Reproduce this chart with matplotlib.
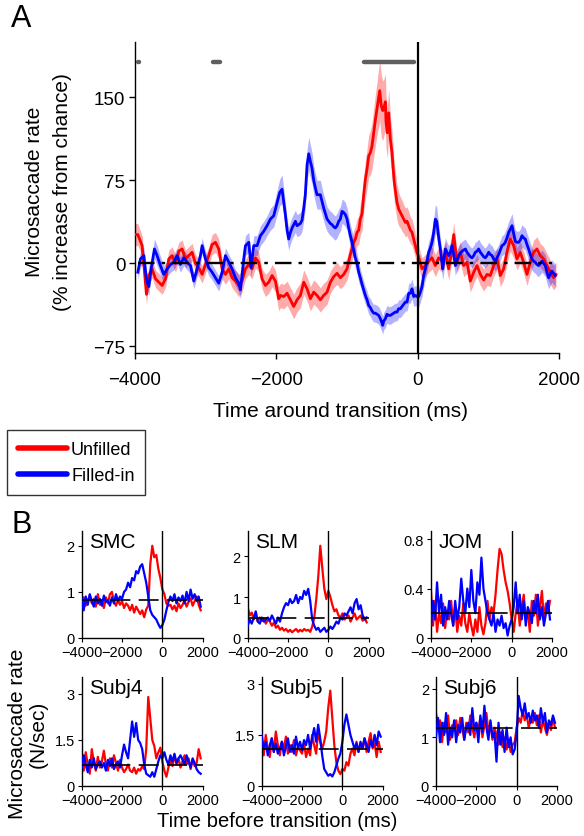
import numpy as np
import matplotlib
matplotlib.use("Agg")
import matplotlib.pyplot as plt
from matplotlib.lines import Line2D

plt.rcParams['font.family'] = ['Liberation Sans', 'DejaVu Sans']
plt.rcParams['axes.linewidth'] = 1.0

# ---------------- Panel A data (ms, % increase from chance) ----------------
red_t = [-4000, -3960, -3899, -3838, -3805, -3758, -3710, -3663, -3616, -3569, -3522, -3475, -3427,
         -3380, -3333, -3286, -3239, -3192, -3145, -3097, -3050, -3003, -2956, -2909, -2862, -2815,
         -2767, -2720, -2673, -2626, -2579, -2532, -2485, -2437, -2390, -2343, -2296, -2249, -2202,
         -2155, -2107, -2060, -2013, -1966, -1942, -1895, -1848, -1801, -1754, -1707, -1660, -1612,
         -1565, -1518, -1471, -1424, -1377, -1330, -1282, -1235, -1188, -1141, -1094, -1047, -1000,
         -952, -905, -881, -858, -834, -811, -787, -764, -740, -717, -693, -669, -646, -622, -598,
         -575, -556, -537, -514, -495, -481, -457, -448, -430, -410, -386, -363, -353, -334, -316,
         -292, -268, -245, -221, -198, -174, -150, -127, -103, -80, -56, -33, -10, 14, 38, 62, 109,
         156, 203, 250, 297, 345, 392, 439, 486, 510, 557, 604, 651, 698, 745, 793, 840, 887, 934,
         981, 1028, 1075, 1123, 1170, 1217, 1264, 1311, 1358, 1405, 1452, 1499, 1547, 1594, 1641,
         1688, 1735, 1782, 1829, 1877, 1924, 1957]
red_v = [26, 26, 16, -28, -11, -5, -14, -17, -20, -14, 4, 7, 0,
         11, 13, 4, 7, 10, 0, -4, -10, -1, 7, 17, 19, 13,
         -5, -10, -5, -13, -16, -20, -16, -5, -1, -5, 5, 1, -14,
         -20, -17, -11, -16, -32, -29, -30, -27, -33, -39, -33, -29, -17,
         -23, -32, -26, -29, -33, -29, -26, -17, -12, -9, -13, -10, -5,
         8, 19, 22, 28, 30, 40, 45, 62, 76, 85, 97, 100, 106, 118, 130,
         140, 148, 156, 142, 138, 140, 146, 128, 118, 136, 112, 100, 91, 75, 66,
         55, 49, 46, 43, 40, 37, 38, 34, 30, 28, 22, 16, 10, 6, 0, -5, -2,
         2, 5, -2, 5, 2, 10, -5, 13, 26, 1, 10, -2, 1, -16, -8, -2, -10, -15,
         -10, -11, -2, 4, -11, -5, 10, 22, 16, 4, 10, 1, -10, 1, 10,
         13, 7, 4, -2, -8, -13, -10]
red_se = [10, 10, 9, 9, 9, 8, 8, 8, 8, 8, 8, 8, 8,
          8, 8, 8, 8, 8, 8, 8, 8, 8, 8, 9, 9, 9,
          9, 9, 9, 9, 10, 10, 10, 9, 9, 9, 9, 9, 9,
          10, 10, 10, 10, 11, 11, 11, 11, 11, 11, 11, 11, 11,
          11, 11, 11, 11, 11, 11, 11, 10, 10, 10, 10, 10, 10,
          11, 11, 12, 12, 13, 14, 15, 16, 17, 18, 19, 20, 21, 22, 23,
          24, 26, 28, 28, 27, 26, 25, 24, 23, 22, 21, 20, 19, 18, 17,
          16, 15, 14, 14, 13, 13, 13, 13, 12, 12, 12, 11, 11, 10, 10, 10, 10,
          10, 10, 10, 10, 10, 10, 10, 10, 11, 10, 10, 10, 10, 10, 10, 10, 10, 10,
          10, 10, 10, 10, 10, 10, 10, 11, 11, 10, 10, 10, 10, 10, 11,
          11, 11, 11, 11, 11, 11, 11]

blue_t = [-3960, -3923, -3875, -3838, -3805, -3772, -3725, -3687, -3640, -3593, -3545, -3498, -3451,
          -3404, -3357, -3310, -3262, -3215, -3168, -3121, -3074, -3050, -3003, -2956, -2909, -2862,
          -2815, -2767, -2720, -2673, -2626, -2579, -2532, -2508, -2461, -2437, -2390, -2357, -2320,
          -2272, -2225, -2178, -2131, -2084, -2037, -1989, -1952, -1919, -1895, -1872, -1848, -1825,
          -1800, -1777, -1754, -1730, -1707, -1683, -1660, -1636, -1612, -1590, -1565, -1542, -1518,
          -1495, -1471, -1447, -1424, -1400, -1377, -1353, -1330, -1306, -1282, -1259, -1235, -1212,
          -1188, -1165, -1141, -1117, -1094, -1070, -1047, -1023, -999, -976, -952, -929, -905, -882,
          -858, -834, -811, -787, -764, -740, -716, -693, -669, -646, -622, -599, -575, -552, -528,
          -504, -495, -480, -457, -434, -410, -386, -363, -340, -316, -292, -269, -245, -222, -198,
          -174, -150, -127, -103, -80, -56, -33, -10, 15, 38, 62, 85, 109, 132, 156, 180, 203, 227,
          250, 270, 283, 300, 321, 354, 370, 392, 415, 439, 462, 486, 510, 533, 557, 580, 604, 628,
          651, 675, 698, 722, 745, 769, 793, 816, 840, 863, 887, 910, 934, 957, 981, 1005, 1028,
          1052, 1075, 1099, 1123, 1146, 1170, 1193, 1217, 1240, 1264, 1288, 1311, 1335, 1358, 1382,
          1405, 1429, 1452, 1476, 1500, 1523, 1547, 1570, 1594, 1617, 1641, 1664, 1688, 1712, 1735,
          1759, 1782, 1806, 1830, 1853, 1877, 1900, 1924, 1947]
blue_v = [-8, 4, 7, -15, -21, -5, 13, 7, -2, -10, -5, -1, 1,
          7, -1, 5, 1, -2, -16, -5, 7, 16, 4, -4, -8, -13,
          -18, -8, 7, 1, -5, -13, -18, -24, 4, 16, 19, -4, 16,
          16, 25, 29, 34, 40, 43, 55, 64, 67, 55, 44, 30, 22,
          28, 32, 35, 38, 34, 35, 36, 39, 50, 62, 89, 99, 92,
          86, 75, 68, 62, 62, 62, 56, 50, 45, 40, 38, 36, 35,
          33, 32, 34, 38, 40, 47, 46, 44, 40, 32, 25, 19, 12, 5,
          0, -8, -13, -19, -24, -29, -33, -38, -40, -43, -45, -45, -46, -47, -50,
          -54, -56, -52, -50, -46, -47, -47, -46, -45, -44, -44, -41, -41, -39, -37,
          -35, -35, -27, -27, -23, -30, -29, -30, -30, -26, -21, -11, -5, 2, 10, 14, 19, 28,
          40, 38, 31, 22, 13, -5, 2, 13, 10, 7, 10, 16, 8, -2, 3, 7, 9, 11,
          12, 13, 10, 8, 6, 5, 7, 10, 11, 13, 10, 8, 6, 5, 7, 10, 8,
          7, 4, 2, 5, 8, 12, 16, 17, 19, 23, 28, 31, 34, 27, 20,
          19, 19, 21, 25, 23, 22, 17, 13, 8, 4, 2, 1, -1, -2, 0,
          2, 0, -2, -8, -13, -10, -7, -9, -11]
blue_se = [7, 7, 8, 8, 8, 8, 9, 9, 8, 8, 7, 7, 7,
           7, 7, 7, 7, 7, 7, 7, 7, 7, 7, 7, 7, 7,
           7, 7, 7, 7, 7, 7, 8, 8, 9, 9, 9, 9, 9,
           9, 9, 9, 9, 10, 10, 11, 12, 13, 12, 11, 10, 10,
           10, 10, 10, 10, 10, 10, 10, 10, 11, 12, 14, 15, 15,
           14, 13, 13, 13, 13, 13, 12, 12, 12, 11, 11, 11, 11,
           11, 11, 11, 11, 11, 11, 11, 11, 10, 10, 10, 10, 9, 9,
           9, 9, 8, 8, 8, 8, 8, 8, 8, 8, 8, 8, 8, 8, 8,
           8, 8, 8, 8, 8, 8, 8, 8, 8, 8, 8, 8, 8, 8, 8,
           8, 8, 9, 9, 9, 9, 9, 9, 9, 9, 9, 10, 10, 10, 10, 10, 11, 12,
           13, 13, 12, 11, 10, 10, 10, 10, 9, 9, 9, 9, 9, 9, 9, 9, 9, 9,
           9, 9, 9, 9, 9, 9, 9, 9, 9, 9, 9, 9, 9, 9, 9, 9, 9,
           9, 9, 9, 9, 9, 9, 9, 9, 10, 10, 10, 10, 11, 10, 10,
           10, 10, 10, 10, 10, 10, 10, 10, 10, 10, 10, 10, 10, 10, 10,
           10, 10, 10, 10, 10, 10, 10, 10, 10]

sig_start = [-3960, -2902, -764]
sig_end = [-3945, -2793, -57]
sig_level = 182
chance_level = 0

# ---------------- Panel B data (N/sec), samples every 100 ms ----------------
b_time = list(range(-4000, 2000, 100))
subjects = ["SMC", "SLM", "JOM", "Subj4", "Subj5", "Subj6"]

smc_red = [0.72, 0.88, 0.7, 0.8, 0.92, 0.75, 0.85, 0.68, 0.95, 0.72,
           0.8, 0.65, 0.88, 0.75, 0.95, 1.0, 0.78, 0.7, 0.82, 0.72,
           0.8, 0.65, 0.75, 0.7, 0.6, 0.72, 0.55, 0.68, 0.6, 0.52,
           0.6, 0.45, 0.62, 0.7, 1.6, 2.0, 1.75, 1.8, 1.5, 1.3,
           1.05, 0.95, 0.75, 0.7, 0.72, 0.62, 0.7, 0.58, 0.75, 0.65,
           0.72, 0.82, 0.68, 0.78, 0.86, 0.7, 0.8, 0.9, 0.72, 0.6]
smc_blue = [0.85, 0.6, 0.9, 0.72, 0.95, 0.8, 0.68, 0.9, 0.75, 0.85,
            0.7, 0.92, 0.78, 0.82, 0.7, 0.88, 0.75, 0.95, 0.8, 0.9,
            0.85, 1.0, 1.05, 1.2, 1.1, 1.3, 1.25, 1.45, 1.4, 1.55,
            1.6, 1.4, 1.2, 0.9, 0.6, 0.5, 0.45, 0.4, 0.3, 0.22,
            0.28, 0.4, 0.6, 0.78, 0.9, 0.8, 0.95, 0.75, 0.88, 0.8,
            0.92, 0.75, 1.0, 0.8, 1.05, 0.85, 0.95, 0.8, 0.9, 0.68]
slm_red = [0.75, 0.55, 0.62, 0.45, 0.55, 0.4, 0.5, 0.42, 0.48, 0.35,
           0.45, 0.4, 0.3, 0.38, 0.25, 0.3, 0.2, 0.25, 0.18, 0.22,
           0.15, 0.2, 0.14, 0.18, 0.22, 0.15, 0.2, 0.16, 0.22, 0.18,
           0.2, 0.15, 0.28, 0.5, 0.95, 1.5, 2.25, 1.7, 1.2, 0.95,
           1.15, 1.0, 0.8, 0.65, 0.7, 0.55, 0.5, 0.6, 0.45, 0.5,
           0.55, 0.4, 0.5, 0.6, 0.45, 0.5, 0.55, 0.42, 0.5, 0.38]
slm_blue = [0.3, 0.45, 0.35, 0.5, 0.65, 0.4, 0.35, 0.5, 0.4, 0.45,
            0.5, 0.42, 0.55, 0.45, 0.35, 0.5, 0.4, 0.6, 0.75, 0.85,
            0.8, 0.95, 0.85, 0.9, 1.05, 0.85, 1.0, 0.95, 1.15, 1.05,
            1.2, 0.9, 0.45, 0.3, 0.2, 0.25, 0.15, 0.2, 0.25, 0.15,
            0.2, 0.28, 0.22, 0.3, 0.4, 0.35, 0.5, 0.45, 0.6, 0.55,
            0.65, 0.75, 0.6, 0.85, 0.95, 0.7, 0.8, 0.55, 0.45, 0.5]
jom_red = [0.38, 0.1, 0.3, 0.05, 0.2, 0.12, 0.28, 0.08, 0.22, 0.15,
           0.3, 0.1, 0.25, 0.05, 0.18, 0.1, 0.28, 0.12, 0.05, 0.2,
           0.1, 0.02, 0.15, 0.05, 0.25, 0.1, 0.03, 0.12, 0.3, 0.15,
           0.25, 0.2, 0.35, 0.55, 0.72, 0.68, 0.55, 0.45, 0.38, 0.28,
           0.15, 0.05, 0.2, 0.3, 0.1, 0.25, 0.35, 0.15, 0.22, 0.05,
           0.3, 0.18, 0.35, 0.1, 0.25, 0.38, 0.15, 0.28, 0.2, 0.3]
jom_blue = [0.1, 0.3, 0.15, 0.45, 0.2, 0.35, 0.1, 0.25, 0.15, 0.3,
            0.2, 0.1, 0.3, 0.15, 0.25, 0.48, 0.3, 0.2, 0.4, 0.25,
            0.55, 0.3, 0.2, 0.45, 0.35, 0.65, 0.4, 0.3, 0.2, 0.15,
            0.1, 0.2, 0.05, 0.15, 0.1, 0.18, 0.08, 0.12, 0.02, 0.1,
            0.15, 0.25, 0.45, 0.2, 0.35, 0.15, 0.3, 0.1, 0.25, 0.2,
            0.12, 0.3, 0.2, 0.35, 0.15, 0.25, 0.1, 0.2, 0.3, 0.15]
s4_red = [0.9, 0.5, 1.1, 0.7, 0.4, 1.2, 0.8, 0.5, 0.95, 0.6,
          0.8, 1.15, 0.7, 0.5, 0.9, 0.6, 1.0, 0.75, 0.5, 0.85,
          0.6, 0.45, 0.55, 0.7, 0.5, 0.45, 0.6, 0.4, 0.55, 0.5,
          0.65, 0.55, 1.2, 2.9, 2.2, 1.5, 1.3, 0.9, 1.1, 1.25,
          0.8, 0.5, 0.3, 0.6, 0.85, 0.65, 1.0, 0.7, 0.9, 0.6,
          0.8, 1.0, 0.7, 0.9, 0.55, 0.85, 0.65, 0.75, 1.2, 0.9]
s4_blue = [0.6, 1.0, 0.7, 0.45, 0.85, 0.6, 0.9, 0.55, 0.7, 0.8,
           0.6, 0.75, 0.5, 0.85, 0.65, 0.9, 0.55, 0.7, 0.8, 0.6,
           1.0, 1.35, 1.1, 0.9, 1.5, 2.1, 1.6, 2.05, 1.5, 1.4,
           1.2, 0.7, 0.4, 0.35, 0.3, 0.45, 0.3, 0.55, 0.8, 1.0,
           0.9, 1.1, 0.85, 0.7, 1.0, 0.8, 1.05, 0.75, 0.9, 1.0,
           0.85, 0.7, 1.0, 0.8, 0.6, 0.9, 0.75, 0.55, 0.45, 0.4]
s5_red = [1.3, 0.9, 1.5, 1.1, 0.85, 1.4, 1.0, 1.6, 1.2, 0.9,
          1.3, 1.1, 1.45, 0.95, 1.2, 1.0, 1.35, 0.9, 1.15, 1.05,
          0.95, 1.25, 0.85, 1.1, 0.9, 1.5, 1.2, 0.95, 1.6, 1.3,
          1.1, 1.3, 1.6, 2.3, 2.8, 2.0, 1.2, 0.7, 0.45, 0.35,
          0.5, 0.45, 0.7, 0.6, 0.95, 1.1, 0.9, 1.3, 1.0, 1.2,
          1.15, 1.4, 1.0, 1.3, 1.55, 1.1, 1.25, 0.85, 1.3, 1.0]
s5_blue = [1.5, 1.1, 1.3, 0.9, 1.2, 1.4, 1.0, 1.25, 0.95, 1.1,
           1.3, 0.9, 1.15, 1.4, 1.0, 1.2, 0.95, 1.45, 1.1, 1.3,
           1.05, 1.35, 1.2, 1.5, 1.1, 1.4, 1.7, 1.3, 1.8, 1.4,
           0.9, 0.5, 0.4, 0.3, 0.35, 0.28, 0.4, 0.6, 0.8, 0.95,
           1.3, 1.8, 2.1, 1.8, 1.5, 1.3, 1.1, 1.25, 1.0, 1.3,
           1.1, 1.4, 1.2, 1.0, 1.35, 1.15, 1.5, 1.2, 1.6, 1.45]
s6_red = [1.5, 1.2, 1.35, 0.9, 1.3, 1.1, 1.45, 0.95, 1.25, 1.15,
          1.35, 1.05, 1.4, 1.2, 0.95, 1.3, 1.1, 1.45, 1.2, 1.0,
          1.3, 1.15, 1.4, 1.0, 1.25, 1.5, 1.1, 1.3, 0.95, 1.2,
          1.05, 0.85, 1.1, 0.8, 1.0, 0.75, 0.95, 0.7, 0.85, 0.9,
          1.2, 1.4, 1.3, 1.55, 1.35, 1.45, 1.2, 1.4, 1.3, 1.5,
          1.25, 1.45, 1.1, 1.35, 1.2, 1.05, 1.3, 1.15, 1.4, 1.2]
s6_blue = [1.0, 1.4, 0.9, 1.3, 1.05, 1.5, 0.85, 1.2, 1.0, 1.35,
           0.9, 1.25, 1.1, 1.4, 0.95, 1.2, 1.3, 1.05, 1.6, 1.15,
           1.3, 0.9, 1.45, 1.1, 1.65, 1.2, 0.95, 1.35, 1.0, 1.1,
           0.5, 1.3, 0.85, 1.15, 0.7, 1.2, 0.8, 1.0, 0.65, 0.75,
           1.1, 1.85, 1.6, 1.45, 1.7, 1.4, 1.5, 1.3, 1.55, 1.35,
           1.45, 1.2, 1.6, 1.3, 1.5, 1.1, 1.35, 1.25, 1.45, 1.3]

b_red = [smc_red, slm_red, jom_red, s4_red, s5_red, s6_red]
b_blue = [smc_blue, slm_blue, jom_blue, s4_blue, s5_blue, s6_blue]
b_chance = [0.82, 0.5, 0.2, 0.67, 1.1, 1.2]
b_ymax = [2.32, 2.61, 0.865, 3.55, 3.2, 2.24]
b_yticks = [[0, 1, 2], [0, 1, 2], [0, 0.4, 0.8], [0, 1.5, 3], [0, 1.5, 3], [0, 1, 2]]
b_yticklabels = [["0", "1", "2"], ["0", "1", "2"], ["0", "0.4", "0.8"],
                 ["0", "1.5", "3"], ["0", "1.5", "3"], ["0", "1", "2"]]
x_ticks = [-4000, -2000, 0, 2000]

RED = '#ff0000'
BLUE = '#0000ff'

# ---------------- Figure ----------------
W, H = 584, 837
fig = plt.figure(figsize=(W / 100, H / 100), dpi=100)


def add_ax(left, top, width, height):
    return fig.add_axes([left / W, 1 - (top + height) / H, width / W, height / H])


# ----- Panel A -----
axA = add_ax(135, 43, 424, 311)
rt, rv, rs = np.array(red_t), np.array(red_v, float), np.array(red_se, float)
bt, bv, bs = np.array(blue_t), np.array(blue_v, float), np.array(blue_se, float)
axA.fill_between(rt, rv - rs, rv + rs, color=RED, alpha=0.33, lw=0, zorder=1)
axA.fill_between(bt, bv - bs, bv + bs, color=BLUE, alpha=0.3, lw=0, zorder=1)
lr, = axA.plot(rt, rv, color=RED, lw=2.0, zorder=3)
lb, = axA.plot(bt, bv, color=BLUE, lw=2.0, zorder=4)
axA.plot([-3960, 1900], [chance_level, chance_level], color='black', lw=1.7,
         dashes=(7, 3, 1.5, 3), zorder=6)
axA.axvline(0, color='black', lw=1.6, zorder=7)
for s, e in zip(sig_start, sig_end):
    axA.plot([s, e], [sig_level, sig_level], color='#5f5f5f', lw=3.2,
             solid_capstyle='round', zorder=5)
axA.set_xlim(-4000, 2000)
axA.set_ylim(-81, 200)
axA.set_xticks(x_ticks)
axA.set_yticks([-75, 0, 75, 150])
axA.spines['top'].set_visible(False)
axA.spines['right'].set_visible(False)
axA.tick_params(axis='both', labelsize=13.5, length=4, width=1, direction='out')
axA.tick_params(axis='x', pad=9)
axA.tick_params(axis='y', pad=3)

fig.text(11 / W, 1 - 4 / H, 'A', fontsize=22, ha='left', va='top')
fig.text(35 / W, 1 - 192 / H, 'Microsaccade rate', rotation=90, fontsize=15,
         ha='center', va='center')
fig.text(63 / W, 1 - 192 / H, '(% increase from chance)', rotation=90, fontsize=15,
         ha='center', va='center')
fig.text(341 / W, 1 - 412 / H, 'Time around transition (ms)', fontsize=15,
         ha='center', va='center')

# legend
h_red = Line2D([], [], color=RED, lw=4.0, solid_capstyle='round')
h_blue = Line2D([], [], color=BLUE, lw=4.0, solid_capstyle='round')
leg = fig.legend([h_red, h_blue], ['Unfilled', 'Filled-in'], loc='upper left',
                 bbox_to_anchor=(7 / W, 1 - 431 / H), fontsize=13, frameon=True,
                 fancybox=False, edgecolor='black', handlelength=2.7,
                 handletextpad=0.25, borderpad=0.6, labelspacing=0.5,
                 borderaxespad=0)
leg.get_frame().set_linewidth(1.0)

fig.text(11 / W, 1 - 510 / H, 'B', fontsize=22, ha='left', va='top')

# ----- Panel B -----
b_boxes = [(81.7, 532, 121, 107), (247.7, 532, 121, 107), (431, 532, 121, 107),
           (81.7, 678, 121, 109), (261.7, 678, 121, 109), (436, 678, 121, 109)]
for i, name in enumerate(subjects):
    l, t, w, h = b_boxes[i]
    ax = add_ax(l, t, w, h)
    ax.plot(b_time, b_red[i], color=RED, lw=1.6, zorder=2)
    ax.plot(b_time, b_blue[i], color=BLUE, lw=1.6, zorder=3)
    ax.plot([-4000, 2000], [b_chance[i], b_chance[i]], color='black', lw=1.2,
            dashes=(12, 5), zorder=5)
    ax.axvline(0, color='black', lw=1.0, zorder=6)
    ax.set_xlim(-4000, 2000)
    ax.set_ylim(0, b_ymax[i])
    ax.set_xticks(x_ticks)
    ax.set_yticks(b_yticks[i])
    ax.set_yticklabels(b_yticklabels[i])
    ax.spines['top'].set_visible(False)
    ax.spines['right'].set_visible(False)
    ax.tick_params(axis='both', labelsize=10.5, length=3, width=0.8, direction='out', pad=2)
    ax.text(0.06, 0.995, name, transform=ax.transAxes, fontsize=15, ha='left', va='top')

fig.text(18 / W, 1 - 734 / H, 'Microsaccade rate', rotation=90, fontsize=15,
         ha='center', va='center')
fig.text(38 / W, 1 - 734 / H, '(N/sec)', rotation=90, fontsize=15,
         ha='center', va='center')
fig.text(277 / W, 1 - 822 / H, 'Time before transition (ms)', fontsize=14.5,
         ha='center', va='center')

fig.savefig('out.png', dpi=100)
